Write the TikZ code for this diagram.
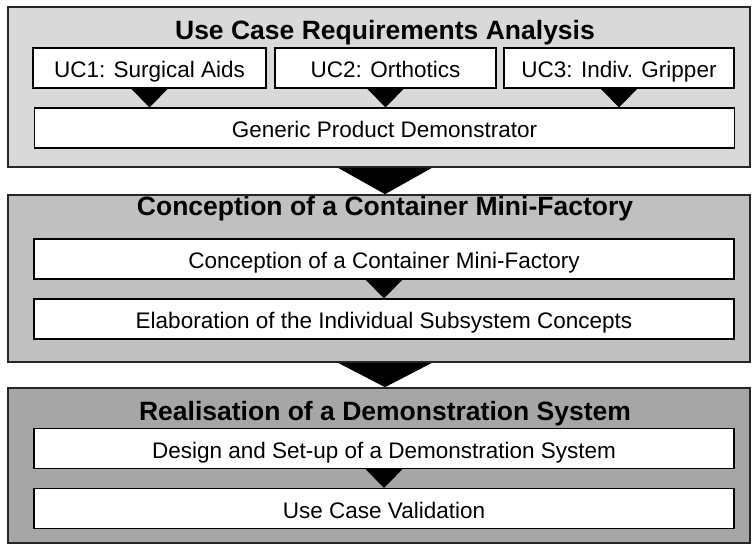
\documentclass[tikz,border=0pt]{standalone}
\usepackage{fontspec}
\setmainfont{Liberation Sans}

\definecolor{phaseA}{RGB}{217,217,217}
\definecolor{phaseB}{RGB}{192,192,192}
\definecolor{phaseC}{RGB}{166,166,166}

\begin{document}
\begin{tikzpicture}[x=1pt, y=-1pt, font=\fontsize{22.5}{26}\selectfont,
    phase/.style={draw=black!85, line width=1.6pt, minimum width=742pt, inner sep=0pt},
    heading/.style={font=\fontsize{26.5}{30}\selectfont\bfseries, inner sep=0pt, anchor=base},
    taskbox/.style={draw=black, line width=1.4pt, fill=white, minimum height=40pt,
        text height=19pt, text depth=0pt, inner sep=0pt},
    flow/.style={fill=black}]
    \useasboundingbox (0,0) rectangle (752,544);

    % Phase frames
    \node[phase, fill=phaseA, minimum height=160pt] (ph1) at (379,87) {};
    \node[phase, fill=phaseB, minimum height=167pt] (ph2) at (379,278.5) {};
    \node[phase, fill=phaseC, minimum height=155pt] (ph3) at (379,465.5) {};

    % Phase titles
    \node[heading] (t1) at (385,39) {Use Case Requirements Analysis};
    \node[heading] (t2) at (385,215) {Conception of a Container Mini-Factory};
    \node[heading] (t3) at (385,420) {Realisation of a Demonstration System};

    % Use cases
    \node[taskbox, minimum width=233pt] (uc1) at (149.5,68) {UC1: Surgical Aids};
    \node[taskbox, minimum width=221pt] (uc2) at (385.5,68) {UC2: Orthotics};
    \node[taskbox, minimum width=230pt] (uc3) at (619,68) {UC3: Indiv. Gripper};
    \node[taskbox, minimum width=700pt] (gpd) at (384.5,128) {Generic Product Demonstrator};

    % Tasks of phase 2 and 3
    \node[taskbox, minimum width=700pt] (cmf) at (384,259) {Conception of a Container Mini-Factory};
    \node[taskbox, minimum width=700pt] (sub) at (384,319) {Elaboration of the Individual Subsystem Concepts};
    \node[taskbox, minimum width=700pt] (dsu) at (384,448.5) {Design and Set-up of a Demonstration System};
    \node[taskbox, minimum width=700pt] (ucv) at (384,508.5) {Use Case Validation};

    % Small arrows between tasks
    \foreach \a/\b in {uc1/gpd, uc2/gpd, uc3/gpd, cmf/sub, dsu/ucv} {
        \fill[flow] (\a.south) ++(-18.5,0) -- ++(37,0) -- (\a.south |- \b.north) -- cycle;
    }

    % Big arrows between phases
    \foreach \a/\b in {ph1/ph2, ph2/ph3} {
        \fill[flow] (t1 |- \a.south) ++(-47,0) -- ++(94,0) -- (t1 |- \b.north) -- cycle;
    }

\end{tikzpicture}
\end{document}
